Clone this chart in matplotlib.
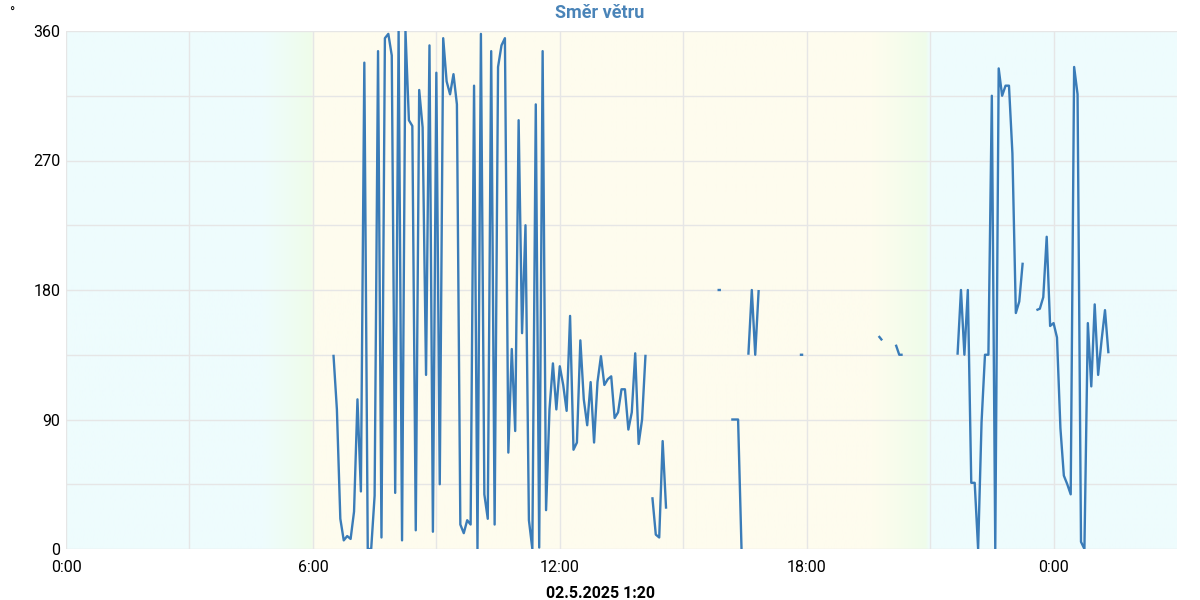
import numpy as np
import matplotlib
matplotlib.use('Agg')
import matplotlib.pyplot as plt

plt.rcParams['font.family'] = ['Roboto', 'DejaVu Sans']

title = 'Směr větru'
date_label = '02.5.2025 1:20'
unit_label = '°'

# wind direction in degrees, one value every 5 minutes, nan = missing
step_min = 5
morning_start = '06:30'
morning_dir = [135, 97, 21, 6, 9, 7,
               26, 104, 40, 338, 0, 0, 37, 346, 8, 355, 358, 343,
               39, 360, 6, 360, 298, 294, 13, 319, 293, 121, 350, 12,
               331, 45, 355, 325, 316, 330, 309, 17, 11, 20, 17, 322,
               0, 358, 38, 21, 346, 17, 335, 350, 355, 67, 139, 82,
               298, 150, 225, 20, 0, 309, 1, 346, 27, 97, 129, 97,
               127, 114, 96, 162, 69, 74, 145, 104, 86, 116, 74, 116,
               134, 114, 118, 120, 91, 95, 111, 111, 83, 95, 136, 73,
               90, 135, np.nan, 36, 10, 8, 75, 28]
piece1_start, piece1_dir = '15:50', [180, 180]
piece2_start, piece2_dir = '16:10', [90, 90, 90, 0]
piece3_start, piece3_dir = '16:35', [135, 180, 135, 180]
piece4_start, piece4_dir = '17:50', [135, 135]
piece5_start, piece5_dir = '19:45', [148, 145]
piece6_start, piece6_dir = '20:10', [142, 135, 135]
evening_start = '21:40'
evening_dir = [135, 180, 135, 180,
               46, 46, 0, 88, 135, 135, 315, 0, 334, 315, 322, 322,
               275, 164, 172, 199]
night_start = '23:35'
night_dir = [166, 167, 175, 217, 155,
             157, 147, 84, 51, 45, 38, 335, 316, 5, 0, 157, 113,
             170, 121, 145, 166, 136]

segments = [(morning_start, morning_dir), (piece1_start, piece1_dir),
            (piece2_start, piece2_dir), (piece3_start, piece3_dir),
            (piece4_start, piece4_dir), (piece5_start, piece5_dir),
            (piece6_start, piece6_dir), (evening_start, evening_dir),
            (night_start, night_dir)]

x_ticks = [0, 6, 12, 18, 24]
x_tick_labels = ['0:00', '6:00', '12:00', '18:00', '0:00']
y_ticks = [0, 90, 180, 270, 360]

# background: night / twilight / day colour stops (hours)
bg_hours = [0, 4.8, 5.95, 6.05, 19.6, 20.9, 21.0, 27]
bg_cols = ['#eefcfd', '#eefcfd', '#effdea', '#fefcee', '#fefcee', '#effdea', '#eefcfd', '#eefcfd']


def to_hours(hhmm):
    h, m = hhmm.split(':')
    return int(h) + int(m) / 60.0


xs, ys = [], []
prev_end = None
for start, vals in segments:
    t0 = to_hours(start)
    if prev_end is not None and t0 < prev_end:
        t0 += 24
    t = t0 + np.arange(len(vals)) * step_min / 60.0
    xs += list(t) + [np.nan]
    ys += list(vals) + [np.nan]
    prev_end = t[-1]

fig = plt.figure(figsize=(12, 6), dpi=100)
ax = fig.add_axes([66 / 1200, 1 - 549 / 600, (1177 - 66) / 1200, (549 - 31) / 600])

# gradient background
hh = np.linspace(0, 27, 1000)
rgb = np.array([matplotlib.colors.to_rgb(c) for c in bg_cols])
row = np.stack([np.interp(hh, bg_hours, rgb[:, k]) for k in range(3)], axis=-1)
ax.imshow(row[np.newaxis, :, :], extent=[0, 27, 0, 360], aspect='auto', zorder=0)

ax.plot(xs, ys, color='#3a7cb8', lw=1.7, zorder=3, solid_capstyle='butt')

ax.set_xlim(0, 27)
ax.set_ylim(0, 360)
ax.set_xticks(np.arange(0, 25, 3), minor=True)
ax.set_xticks(x_ticks)
ax.set_xticklabels(x_tick_labels)
ax.set_yticks(np.arange(0, 361, 45), minor=True)
ax.set_yticks(y_ticks)
ax.set_yticklabels([str(v) for v in y_ticks])
ax.grid(True, which='both', color='#e6e6e6', lw=1.0, zorder=1)
ax.set_axisbelow(False)
for line in ax.get_xgridlines() + ax.get_ygridlines():
    line.set_zorder(1)
ax.tick_params(which='both', length=0, labelsize=11.5, colors='black')
ax.tick_params(axis='x', pad=8)
ax.tick_params(axis='y', pad=4)
for s in ax.spines.values():
    s.set_visible(False)

fig.text(0.5, 1 - 13 / 600, title, ha='center', va='center', fontsize=13,
         fontweight='bold', color='#4a84b8')
fig.text(0.5, 1 - 593 / 600, date_label, ha='center', va='center', fontsize=11.5,
         fontweight='bold', color='black')
fig.text(12 / 1200, 1 - 14 / 600, unit_label, ha='center', va='center', fontsize=10)

fig.savefig('out.png', dpi=100)
